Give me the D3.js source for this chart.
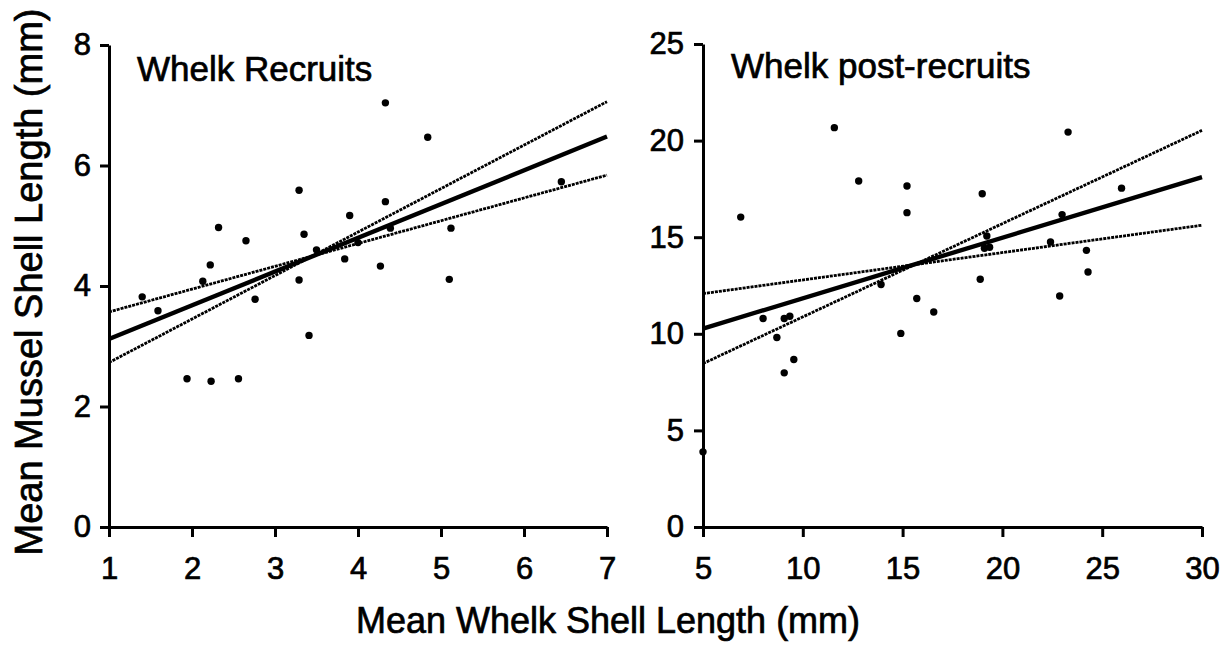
<!DOCTYPE html>
<html lang="en">
<head>
<meta charset="UTF-8">
<title>Whelk vs mussel shell length</title>
<script src="https://cdn.jsdelivr.net/npm/d3@7"></script>
<style>
body{margin:0;background:#fff;}
text{font-family:"Liberation Sans",Arial,Helvetica,sans-serif;fill:#000;stroke:#000;stroke-width:0.7px;}
</style>
</head>
<body>
<script>
// Whelk recruits (left panel)
var recX = [4.33,4.84,3.29,4.33,3.90,2.32,3.35,2.65,5.12,2.22,3.84,4.27,3.29,5.10,2.13,1.40,1.59,2.76,6.45,4.39,3.50,4.00,3.41,1.94,2.23,2.56];
var recY = [7.04,6.47,5.59,5.40,5.17,4.97,4.86,4.75,4.96,4.35,4.45,4.33,4.10,4.11,4.08,3.82,3.59,3.78,5.73,4.96,4.60,4.72,3.18,2.46,2.42,2.46];
var recLineX = [1,7];
var recFit = [3.12,6.48];
var recSteep = [2.73,7.06];
var recFlat = [3.57,5.84];
var recXTicks = [1,2,3,4,5,6,7];
var recYTicks = [0,2,4,6,8];

// Whelk post-recruits (right panel)
var postX = [11.58,23.29,12.80,15.22,18.99,25.97,6.89,15.22,22.99,19.22,19.36,19.10,22.41,24.21,24.29,18.89,13.92,15.71,22.87,16.56,8.01,9.07,9.35,8.70,9.55,9.07,14.91,5.0];
var postY = [20.67,20.44,17.91,17.65,17.25,17.54,16.04,16.27,16.17,15.06,14.48,14.43,14.75,14.32,13.20,12.82,12.55,11.83,11.96,11.13,10.79,10.79,10.91,9.81,8.67,7.98,10.02,3.89];
var postLineX = [5,30];
var postFit = [10.27,18.11];
var postSteep = [8.46,20.53];
var postFlat = [12.08,15.62];
var postXTicks = [5,10,15,20,25,30];
var postYTicks = [0,5,10,15,20,25];

var width = 1222, height = 650;
var svg = d3.select("body").append("svg").attr("width",width).attr("height",height);

function drawPanel(p){
	var x = d3.scaleLinear().domain(p.xDomain).range([p.left,p.right]);
	var y = d3.scaleLinear().domain(p.yDomain).range([527,p.top]);
	var g = svg.append("g");

	g.append("g").attr("transform","translate(0,527)")
		.call(d3.axisBottom(x).tickValues(p.xTicks).tickFormat(d3.format("d")).tickSize(10).tickSizeOuter(0).tickPadding(20));
	g.append("g").attr("transform","translate("+p.left+",0)")
		.call(d3.axisLeft(y).tickValues(p.yTicks).tickFormat(d3.format("d")).tickSize(9).tickSizeOuter(0).tickPadding(p.yPad));
	g.selectAll(".domain, .tick line").attr("stroke","#000").attr("stroke-width",3);
	g.selectAll(".tick text").attr("font-size",31).attr("font-family","Liberation Sans, Arial, sans-serif")
		.attr("stroke","#000").attr("stroke-width",0.7);

	// fitted lines
	var lines = [{v:p.steep,dot:true},{v:p.flat,dot:true},{v:p.fit,dot:false}];
	g.selectAll(".fitLine").data(lines).enter().append("line").attr("class","fitLine")
		.attr("x1",x(p.lineX[0])).attr("x2",x(p.lineX[1]))
		.attr("y1",function(d){return y(d.v[0]);}).attr("y2",function(d){return y(d.v[1]);})
		.attr("stroke","#000")
		.attr("stroke-width",function(d){return d.dot?2.8:4.4;})
		.attr("stroke-dasharray",function(d){return d.dot?"3,1":null;});

	// points
	g.selectAll(".pt").data(p.xs).enter().append("circle").attr("class","pt")
		.attr("cx",function(d){return x(d);})
		.attr("cy",function(d,i){return y(p.ys[i]);})
		.attr("r",3.7).attr("fill","#000");

	g.append("text").attr("x",p.titleX).attr("y",p.titleY).attr("font-size",35).text(p.title);
}

drawPanel({xDomain:[1,7],yDomain:[0,8],left:109,right:607,top:45,xTicks:recXTicks,yTicks:recYTicks,yPad:9,
	lineX:recLineX,fit:recFit,steep:recSteep,flat:recFlat,xs:recX,ys:recY,
	title:"Whelk Recruits",titleX:137,titleY:81});
drawPanel({xDomain:[5,30],yDomain:[0,25],left:703,right:1202,top:44,xTicks:postXTicks,yTicks:postYTicks,yPad:10,
	lineX:postLineX,fit:postFit,steep:postSteep,flat:postFlat,xs:postX,ys:postY,
	title:"Whelk post-recruits",titleX:731,titleY:78});

// axis titles
svg.append("text").attr("x",608).attr("y",633).attr("text-anchor","middle").attr("font-size",36)
	.text("Mean Whelk Shell Length (mm)");
svg.append("text").attr("transform","translate(42,282) rotate(-90)").attr("text-anchor","middle").attr("font-size",38)
	.text("Mean Mussel Shell Length (mm)");
</script>
</body>
</html>
